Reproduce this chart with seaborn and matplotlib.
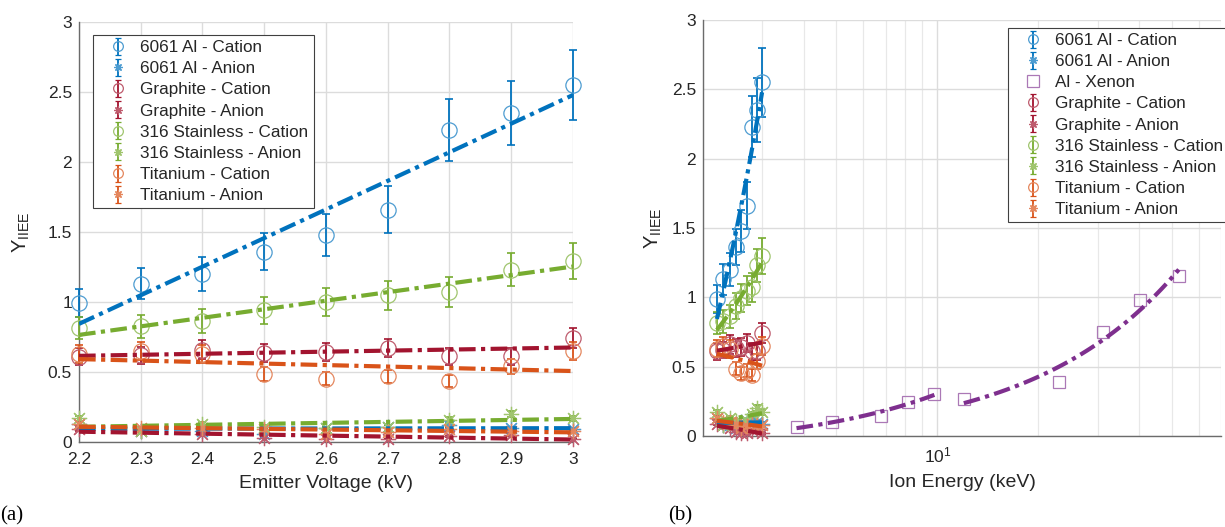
import numpy as np
import pandas as pd
import matplotlib
matplotlib.use("Agg")
import matplotlib.pyplot as plt
import seaborn as sns
from matplotlib.ticker import LogLocator, NullFormatter, FixedLocator, FuncFormatter

# ---------------------------------------------------------------- data
voltage = [2.2, 2.3, 2.4, 2.5, 2.6, 2.7, 2.8, 2.9, 3.0]   # kV (= keV per charge)

al_cation = [0.99, 1.13, 1.20, 1.36, 1.48, 1.66, 2.23, 2.35, 2.55]
al_cation_err = [0.10, 0.11, 0.12, 0.13, 0.15, 0.17, 0.22, 0.23, 0.25]
al_anion = [0.13, 0.08, 0.08, 0.06, 0.10, 0.11, 0.12, 0.10, 0.09]
al_anion_err = [0.013, 0.008, 0.008, 0.006, 0.010, 0.011, 0.012, 0.010, 0.009]

graphite_cation = [0.61, 0.62, 0.66, 0.636, 0.643, 0.671, 0.612, 0.612, 0.743]
graphite_cation_err = [0.06, 0.06, 0.066, 0.064, 0.064, 0.067, 0.061, 0.061, 0.074]
graphite_anion = [0.09, 0.08, 0.06, 0.03, 0.02, 0.02, 0.04, 0.05, 0.02]
graphite_anion_err = [0.009, 0.008, 0.006, 0.003, 0.002, 0.002, 0.004, 0.005, 0.002]

steel_cation = [0.814, 0.826, 0.862, 0.94, 0.997, 1.047, 1.071, 1.231, 1.295]
steel_cation_err = [0.08, 0.08, 0.086, 0.094, 0.10, 0.105, 0.107, 0.12, 0.13]
steel_anion = [0.17, 0.08, 0.13, 0.11, 0.10, 0.11, 0.16, 0.20, 0.17]
steel_anion_err = [0.017, 0.008, 0.013, 0.011, 0.010, 0.011, 0.016, 0.020, 0.017]

ti_cation = [0.63, 0.65, 0.628, 0.486, 0.452, 0.469, 0.438, 0.54, 0.652]
ti_cation_err = [0.063, 0.065, 0.063, 0.049, 0.045, 0.047, 0.044, 0.054, 0.065]
ti_anion = [0.13, 0.10, 0.10, 0.09, 0.06, 0.07, 0.09, 0.08, 0.08]
ti_anion_err = [0.013, 0.010, 0.010, 0.009, 0.006, 0.007, 0.009, 0.008, 0.008]

xenon_energy = [3.80, 4.86, 6.77, 8.18, 9.79, 11.98, 23.0, 31.1, 40.1, 52.4]   # keV
xenon_yield = [0.067, 0.099, 0.147, 0.247, 0.30, 0.267, 0.387, 0.748, 0.98, 1.154]
xenon_set = [1, 1, 1, 1, 1, 2, 2, 2, 2, 2]

# ---------------------------------------------------------------- style
BLUE, RED, GREEN, ORANGE, PURPLE = "#0072BD", "#A2142F", "#77AC30", "#D95319", "#7E2F8E"

series = [
    ("6061 Al - Cation", al_cation, al_cation_err, BLUE, "o"),
    ("6061 Al - Anion", al_anion, al_anion_err, BLUE, "*"),
    ("Graphite - Cation", graphite_cation, graphite_cation_err, RED, "o"),
    ("Graphite - Anion", graphite_anion, graphite_anion_err, RED, "*"),
    ("316 Stainless - Cation", steel_cation, steel_cation_err, GREEN, "o"),
    ("316 Stainless - Anion", steel_anion, steel_anion_err, GREEN, "*"),
    ("Titanium - Cation", ti_cation, ti_cation_err, ORANGE, "o"),
    ("Titanium - Anion", ti_anion, ti_anion_err, ORANGE, "*"),
]

sns.set_style("white")
plt.rcParams["font.family"] = ["Liberation Sans", "DejaVu Sans"]
plt.rcParams["mathtext.fontset"] = "custom"
plt.rcParams["mathtext.rm"] = "Liberation Sans"
plt.rcParams["mathtext.it"] = "Liberation Sans:italic"

AXIS_GRAY = "#6b6b6b"
GRID_GRAY = "#dcdcdc"
TEXT = "#262626"
DASH = (4.0, 1.3, 1.0, 1.3)
ASTER = (8, 2, 0)


def lighten(c, f):
    r, g, b = matplotlib.colors.to_rgb(c)
    return (r + (1 - r) * f, g + (1 - g) * f, b + (1 - b) * f)


def draw_series(ax, x, y, err, color, marker, label):
    mk = ASTER if marker == "*" else "o"
    ms = 11
    eb = ax.errorbar(x, y, yerr=err, fmt="none", ecolor=color, elinewidth=1.3,
                     capsize=3.2, capthick=1.2, zorder=3)
    pts = ax.plot(x, y, linestyle="none", marker=mk, markersize=ms,
                  markerfacecolor="none", markeredgecolor=lighten(color, 0.3),
                  markeredgewidth=0.9, zorder=4)
    for art in list(eb.lines[1]) + list(eb.lines[2]) + pts:
        art.set_clip_on(False)
    # legend proxy (not visible in the data area)
    proxy = ax.errorbar([np.nan], [np.nan], yerr=[np.nan], fmt="", marker=mk,
                        linestyle="none", color=color, ecolor=color,
                        markersize=7 if marker == "o" else 6, markerfacecolor="none",
                        markeredgecolor=lighten(color, 0.3), markeredgewidth=0.9,
                        elinewidth=1.3, capsize=2.5, label=label)
    return proxy


def draw_fit(ax, x, y, color):
    x = np.asarray(x, float)
    coef = np.polyfit(x, np.asarray(y, float), 1)
    xs = np.linspace(x.min(), x.max(), 60)
    fit = pd.DataFrame({"x": xs, "y": np.polyval(coef, xs)})
    n0 = len(ax.lines)
    sns.lineplot(data=fit, x="x", y="y", ax=ax, color=color, linewidth=3.0,
                 legend=False, errorbar=None, sort=False)
    for ln in ax.lines[n0:]:
        ln.set_dashes(DASH)
        ln.set_zorder(5)


def style_axes(ax):
    for side in ("top", "right"):
        ax.spines[side].set_visible(False)
    for side in ("left", "bottom"):
        ax.spines[side].set_color(AXIS_GRAY)
        ax.spines[side].set_linewidth(1.0)
    ax.tick_params(axis="both", which="both", direction="in", colors=AXIS_GRAY,
                   labelcolor=TEXT, labelsize=12.5, length=5, width=0.8)
    ax.tick_params(axis="x", which="both", pad=7)
    ax.tick_params(axis="y", which="both", pad=5)
    ax.tick_params(axis="both", which="minor", length=3)
    ax.set_ylim(0, 3)
    ax.yaxis.set_major_locator(FixedLocator([0, 0.5, 1, 1.5, 2, 2.5, 3]))
    ax.yaxis.set_major_formatter(FuncFormatter(lambda v, p: f"{v:g}"))
    ax.set_axisbelow(True)
    ax.set_ylabel("Y$_{\\mathrm{IIEE}}$", fontsize=14.5, color=TEXT)


def make_legend(ax, handles, anchor):
    leg = ax.legend(handles=handles, loc="upper left", bbox_to_anchor=anchor,
                    borderaxespad=0, fontsize=12.3, frameon=True, fancybox=False,
                    edgecolor="#404040", framealpha=1, labelspacing=0.36,
                    handlelength=2.3, handletextpad=0.15, borderpad=0.3)
    leg.get_frame().set_linewidth(0.8)
    for t in leg.get_texts():
        t.set_color(TEXT)
    return leg


fig = plt.figure(figsize=(12.25, 5.27), dpi=100)
ax1 = fig.add_axes([79 / 1225, 1 - 442 / 527, (573 - 79) / 1225, 420 / 527])
ax2 = fig.add_axes([703 / 1225, 1 - 436 / 527, (1221 - 703) / 1225, 416 / 527])

# ---------------------------------------------------------------- (a) emitter voltage
handles1 = []
for label, y, err, color, marker in series:
    handles1.append(draw_series(ax1, voltage, y, err, color, marker, label))
for label, y, err, color, marker in series:
    draw_fit(ax1, voltage, y, color)

style_axes(ax1)
ax1.set_xlim(2.2, 3.0)
ax1.xaxis.set_major_locator(FixedLocator(voltage))
ax1.xaxis.set_major_formatter(FuncFormatter(lambda v, p: f"{v:g}"))
ax1.grid(True, color=GRID_GRAY, linewidth=1.0)
ax1.set_xlabel("Emitter Voltage (kV)", fontsize=14, color=TEXT, labelpad=6)
ax1.yaxis.set_label_coords(-0.095, 0.5)
make_legend(ax1, handles1, (0.029, 0.969))

# ---------------------------------------------------------------- (b) ion energy
handles2 = []
for i, (label, y, err, color, marker) in enumerate(series):
    handles2.append(draw_series(ax2, voltage, y, err, color, marker, label))
    if i == 1:
        ax2.plot(xenon_energy, xenon_yield, linestyle="none", marker="s", markersize=9,
                 markerfacecolor="none", markeredgecolor=lighten(PURPLE, 0.35),
                 markeredgewidth=0.9, zorder=4)
        handles2.append(ax2.plot([], [], linestyle="none", marker="s", markersize=8,
                                 markerfacecolor="none",
                                 markeredgecolor=lighten(PURPLE, 0.35),
                                 markeredgewidth=0.9, label="Al - Xenon")[0])
for label, y, err, color, marker in series:
    draw_fit(ax2, voltage, y, color)
xen = pd.DataFrame({"E": xenon_energy, "Y": xenon_yield, "set": xenon_set})
for _, grp in xen.groupby("set"):
    draw_fit(ax2, grp["E"], grp["Y"], PURPLE)

style_axes(ax2)
ax2.set_xscale("log")
ax2.set_xlim(2, 70)
ax2.xaxis.set_major_locator(LogLocator(base=10))
ax2.xaxis.set_minor_locator(LogLocator(base=10, subs=np.arange(2, 10)))
ax2.xaxis.set_minor_formatter(NullFormatter())
ax2.grid(True, which="major", color=GRID_GRAY, linewidth=1.0)
ax2.grid(True, which="minor", axis="x", color="#e8e8e8", linewidth=0.9)
ax2.set_xlabel("Ion Energy (keV)", fontsize=14, color=TEXT, labelpad=6)
ax2.yaxis.set_label_coords(-0.076, 0.5)
leg2 = make_legend(ax2, handles2, (0.589, 0.981))
leg2.set_clip_on(False)

fig.text(0.0, 0.012, "(a)", fontsize=15, family="Liberation Serif", color="black")
fig.text(668 / 1225, 0.012, "(b)", fontsize=15, family="Liberation Serif", color="black")

fig.savefig("out.png", dpi=100)
